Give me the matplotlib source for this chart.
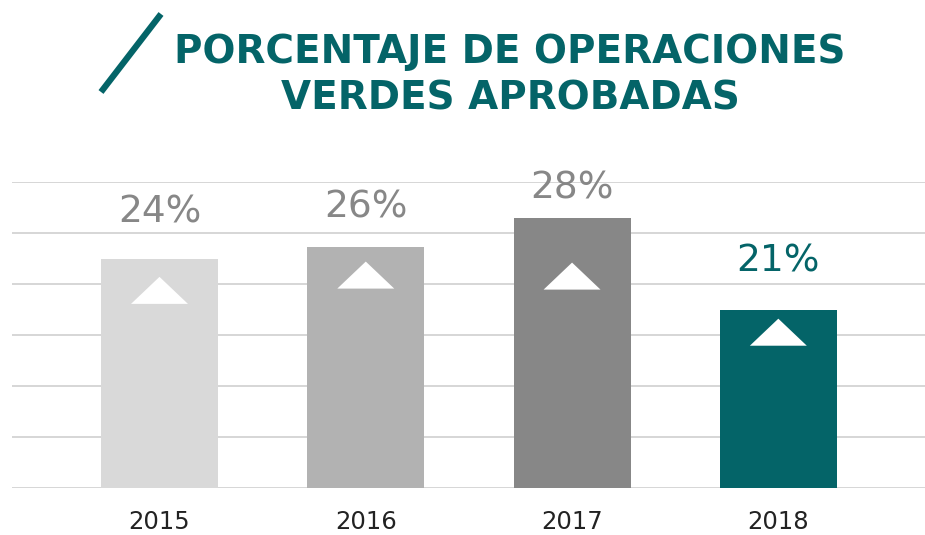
import matplotlib
matplotlib.use("Agg")
import matplotlib.pyplot as plt
from matplotlib.lines import Line2D

# values
years = ["2015", "2016", "2017", "2018"]
value_labels = ["24%", "26%", "28%", "21%"]
bar_heights = [22.5, 23.6, 26.5, 17.5]      # in gridline units (0-30)
label_y = [27.0, 27.5, 29.4, 22.2]          # centre of the % labels
triangle_tops = [20.7, 22.2, 22.1, 16.6]    # apex of the white triangles

bar_colors = ["#d9d9d9", "#b2b2b2", "#878787", "#046468"]
label_colors = ["#878787", "#878787", "#878787", "#046468"]
TEAL = "#046468"
GRID = "#cccccc"

W, H = 925, 535
fig = plt.figure(figsize=(W / 100, H / 100), dpi=100)
ax = fig.add_axes([12 / W, (H - 488) / H, 913 / W, 306 / H])

x = list(range(len(years)))
ax.bar(x, bar_heights, width=0.567, color=bar_colors, zorder=2)

for yv in range(0, 31, 5):
    ax.axhline(yv, color=GRID, linewidth=1.1, zorder=1)

tri_half, tri_h = 0.138, 2.65
for xi, top in zip(x, triangle_tops):
    ax.fill([xi - tri_half, xi, xi + tri_half], [top - tri_h, top, top - tri_h],
            color="white", zorder=3, linewidth=0)

for xi, lab, ly, c in zip(x, value_labels, label_y, label_colors):
    ax.text(xi, ly, lab, ha="center", va="center", fontsize=27, color=c,
            family="DejaVu Sans")

ax.set_xlim(-0.715, 3.711)
ax.set_ylim(0, 30)
ax.set_xticks(x)
ax.set_xticklabels(years, fontsize=17.5, color="#222222")
ax.tick_params(axis="x", length=0, pad=16)
ax.set_yticks([])
for s in ax.spines.values():
    s.set_visible(False)

fig.text(510 / W, 1 - 52 / H, "PORCENTAJE DE OPERACIONES", ha="center", va="center",
         fontsize=28, fontweight="bold", color=TEAL)
fig.text(510 / W, 1 - 98 / H, "VERDES APROBADAS", ha="center", va="center",
         fontsize=28, fontweight="bold", color=TEAL)
fig.add_artist(Line2D([101 / W, 161 / W], [1 - 92 / H, 1 - 14 / H],
                      transform=fig.transFigure, color=TEAL, linewidth=4.5,
                      solid_capstyle="butt"))

fig.savefig("out.png", dpi=100)
